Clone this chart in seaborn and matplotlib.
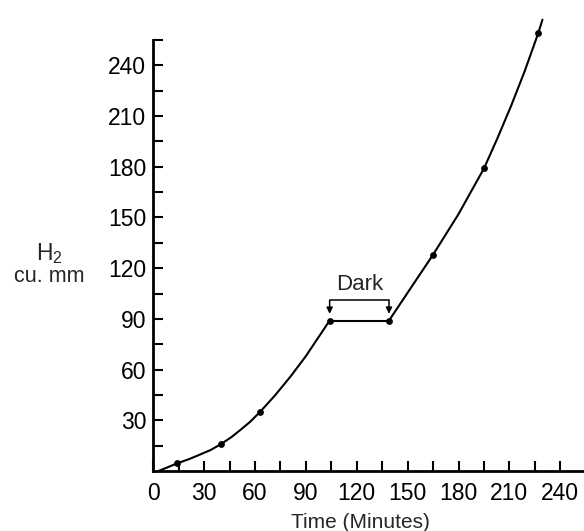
import matplotlib
matplotlib.use("Agg")
import matplotlib.pyplot as plt
import pandas as pd
import seaborn as sns

# ── Data ────────────────────────────────────────────────────
obs_time = [14, 40, 63, 104, 139, 165, 195, 227]
obs_h2 = [4.5, 16, 35, 89, 89, 128, 179, 259]

# hand-drawn curve, light period 1 / dark / light period 2
light1_time = [3, 8, 14, 21, 27, 34, 40, 46, 51, 57, 63, 72, 81, 90, 97, 104]
light1_h2 = [0, 2, 4.5, 7, 9.5, 12.5, 16, 20, 24, 29, 35, 45, 56, 68, 78.5, 89]
dark_time = [104, 139]
dark_h2 = [89, 89]
light2_time = [139, 152, 165, 180, 195, 203, 211, 219, 227, 229.5]
light2_h2 = [89, 108.5, 128, 152, 179, 197, 216, 236.5, 259, 267]

dark_start, dark_end = 104, 139
x_ticks = list(range(0, 241, 15))
y_ticks = list(range(15, 256, 15))

# ── Style ───────────────────────────────────────────────────
sns.set_theme(style="ticks")
plt.rcParams["font.family"] = ["Liberation Sans", "DejaVu Sans"]
plt.rcParams["mathtext.fontset"] = "custom"
plt.rcParams["mathtext.rm"] = "Liberation Sans"
plt.rcParams["mathtext.it"] = "Liberation Sans"

fig = plt.figure(figsize=(5.84, 5.31), dpi=100)
ax = fig.add_axes([153.3 / 584, 60 / 531, (584 - 153.3) / 584, 431 / 531])

segments = [
    (light1_time, light1_h2),
    (dark_time, dark_h2),
    (light2_time, light2_h2),
]
for t, h in segments:
    seg = pd.DataFrame({"time": t, "h2": h})
    sns.lineplot(data=seg, x="time", y="h2", sort=False, estimator=None,
                 color="black", linewidth=1.5, ax=ax)

pts = pd.DataFrame({"time": obs_time, "h2": obs_h2})
sns.scatterplot(data=pts, x="time", y="h2", color="black", s=24,
                edgecolor="black", linewidth=0, ax=ax, zorder=3)

for art in ax.lines + ax.collections:
    art.set_clip_on(False)

# "Dark" bracket
top = 101
tip = 93
ax.plot([dark_start, dark_end], [top, top], color="black", lw=1.1, clip_on=False)
for xd in (dark_start, dark_end):
    ax.annotate("", xy=(xd, tip), xytext=(xd, top),
                arrowprops=dict(arrowstyle="-|>", color="black", lw=1.1,
                                mutation_scale=9, shrinkA=0, shrinkB=0))
ax.text((dark_start + dark_end) / 2, top + 3, "Dark", ha="center", va="bottom",
        fontsize=16)

# ── Axes ────────────────────────────────────────────────────
ax.set_xlim(0, 254)
ax.set_ylim(0, 253.5)
ax.set_xticks(x_ticks)
ax.set_xticklabels([str(v) if v % 30 == 0 else "" for v in x_ticks])
ax.set_yticks(y_ticks)
ax.set_yticklabels([str(v) if v % 30 == 0 else "" for v in y_ticks])
ax.tick_params(direction="in", length=7, width=1.5, labelsize=16.5, colors="black")
ax.tick_params(axis="y", pad=5)
ax.tick_params(axis="x", pad=8)
sns.despine(ax=ax)
for side in ("left", "bottom"):
    ax.spines[side].set_linewidth(2)
    ax.spines[side].set_color("black")

ax.set_xlabel("")
ax.set_ylabel("")
ax.text(122, -25, "Time (Minutes)", ha="center", va="top", fontsize=15)

fig.text(49 / 584, 1 - 254 / 531, r"H$_2$", ha="center", va="center", fontsize=16.5)
fig.text(49 / 584, 1 - 276 / 531, "cu. mm", ha="center", va="center", fontsize=15.5)

plt.savefig("out.png", dpi=100)
plt.close()
